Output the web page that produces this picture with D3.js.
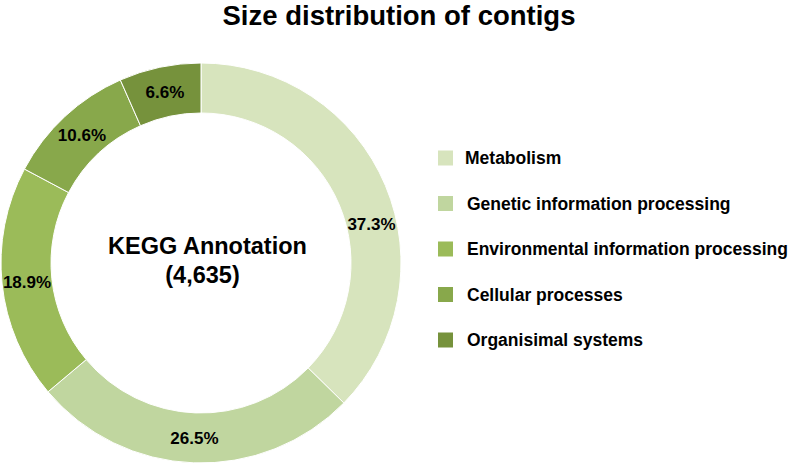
<!DOCTYPE html>
<html lang="en">
<head>
  <meta charset="UTF-8">
  <title>Size distribution of contigs</title>
  <script src="https://d3js.org/d3.v7.min.js"></script>
  <style>
    body { margin: 0; background: #fff; }
    text { font-family: "Liberation Sans", Arial, sans-serif; font-weight: bold; fill: #000; }
  </style>
</head>
<body>
  <div id="chart"></div>

  <script>
    // data
    const categories = [
      'Metabolism',
      'Genetic information processing',
      'Environmental information processing',
      'Cellular processes',
      'Organisimal systems'
    ];
    const percents = [37.3, 26.5, 18.9, 10.6, 6.6];
    const colors = ['#d7e4bd', '#c0d69f', '#9bbb59', '#88a84b', '#76923c'];
    const centerLines = ['KEGG Annotation', '(4,635)'];

    const width = 795, height = 465;
    const cx = 201, cy = 263, rOuter = 200, rInner = 150;

    const svg = d3.select('#chart').append('svg')
      .attr('width', width)
      .attr('height', height);

    // title
    svg.append('text')
      .attr('x', 399)
      .attr('y', 25)
      .attr('text-anchor', 'middle')
      .attr('font-size', 27.5)
      .text('Size distribution of contigs');

    const pie = d3.pie().sort(null).value(d => d);
    const arc = d3.arc().innerRadius(rInner).outerRadius(rOuter);

    const g = svg.append('g').attr('transform', `translate(${cx},${cy})`);
    const arcs = pie(percents);

    g.selectAll('path')
      .data(arcs)
      .enter()
      .append('path')
      .attr('d', arc)
      .attr('fill', (d, i) => colors[i])
      .attr('stroke', '#fff')
      .attr('stroke-width', 1);

    // labels sit in the ring; the first one is pushed a bit further round, like excel did
    const labelPos = (d, i) => {
      let a = (d.startAngle + d.endAngle) / 2;
      if (i === 0) a += 0.17;
      return [175 * Math.sin(a), -175 * Math.cos(a)];
    };

    g.selectAll('text.pct')
      .data(arcs)
      .enter()
      .append('text')
      .attr('class', 'pct')
      .attr('transform', (d, i) => `translate(${labelPos(d, i)})`)
      .attr('text-anchor', 'middle')
      .attr('dy', '0.36em')
      .attr('font-size', 17)
      .text(d => d.data.toFixed(1) + '%');

    // center text
    g.selectAll('text.center')
      .data(centerLines)
      .enter()
      .append('text')
      .attr('class', 'center')
      .attr('x', (d, i) => i === 0 ? 6.5 : 1.5)
      .attr('y', (d, i) => -9 + i * 29)
      .attr('text-anchor', 'middle')
      .attr('font-size', 23.5)
      .text(d => d);

    // legend
    const y = d3.scalePoint().domain(categories).range([158, 340]);
    const legend = svg.append('g');
    const rows = legend.selectAll('g')
      .data(categories)
      .enter()
      .append('g')
      .attr('transform', d => `translate(438,${y(d)})`);

    rows.append('rect')
      .attr('x', 0)
      .attr('y', -7.5)
      .attr('width', 15)
      .attr('height', 15)
      .attr('fill', (d, i) => colors[i]);

    rows.append('text')
      .attr('x', (d, i) => i === 0 ? 27 : 29)
      .attr('dy', '0.36em')
      .attr('font-size', 17.5)
      .text(d => d);
  </script>
</body>
</html>
